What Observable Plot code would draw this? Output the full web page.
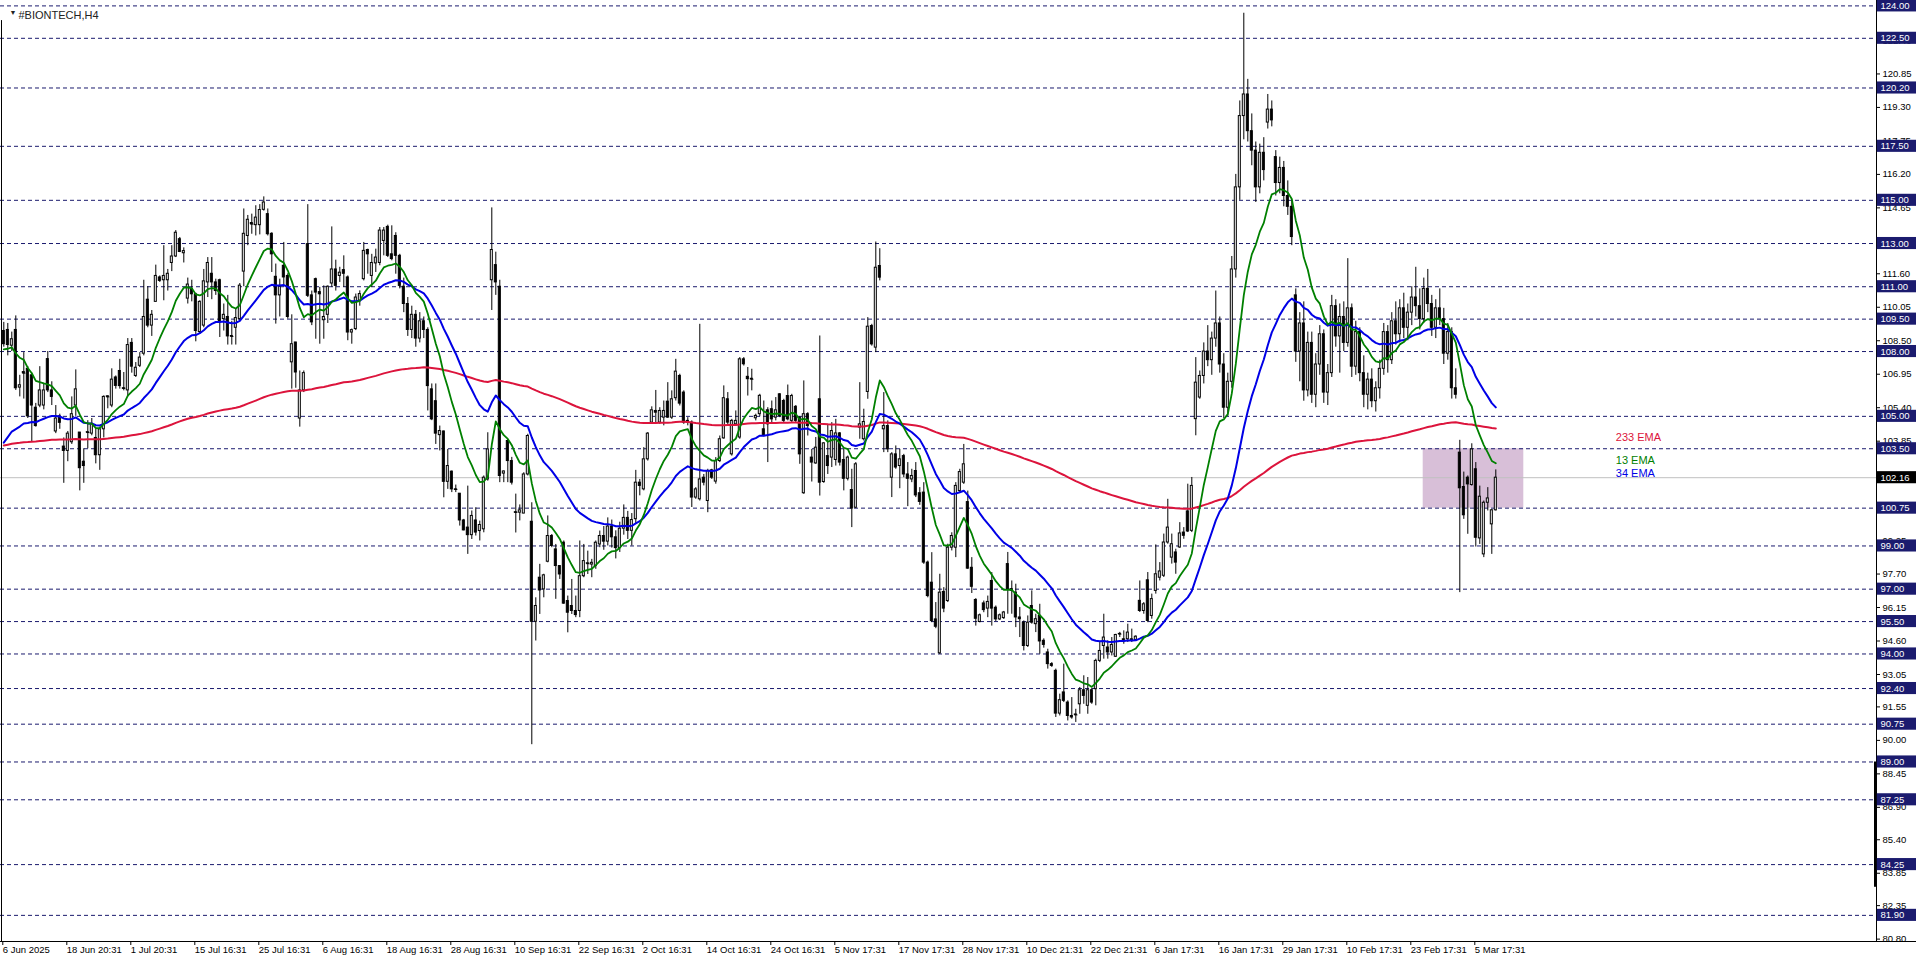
<!DOCTYPE html>
<html><head><meta charset="utf-8">
<script src="https://cdn.jsdelivr.net/npm/d3@7"></script>
<script src="https://cdn.jsdelivr.net/npm/@observablehq/plot@0.6"></script>
<style>
html,body{margin:0;padding:0;background:#fff;overflow:hidden;}
#chart svg{display:block;}
</style></head><body><div id="chart"></div>
<script>
// ---- Candle data (H4 bars) ----
const opens = [
108.95,109.0,108.27,109.0,106.33,107.0,107.2,106.9,105.4,105.5,
105.5,107.65,106.2,104.3,105.0,103.6,103.4,103.8,105.5,104.25,
102.9,104.25,104.2,104.0,103.2,104.4,105.9,105.5,106.8,107.1,
106.3,106.2,108.4,106.87,107.34,107.9,110.4,109.2,110.3,111.43,
111.3,111.3,112.1,112.4,113.2,112.55,110.45,110.9,110.65,108.9,
109.2,111.2,111.6,111.2,111.3,109.5,109.6,108.7,109.1,109.5,
111.7,113.35,113.9,113.85,113.85,114.56,114.36,113.45,111.46,110.6,
111.97,111.5,107.5,108.42,104.9,106.2,112.97,110.6,111.35,110.75,
109.45,109.7,111.15,111.8,111.5,111.77,111.43,108.88,109.04,110.35,
111.35,112.7,111.5,112.08,112.1,113.12,113.77,112.5,113.35,112.43,
111.0,110.2,109.0,109.7,108.6,109.4,109.0,106.25,105.7,104.13,
104.3,101.97,102.44,101.62,101.42,100.18,99.85,99.5,100.18,99.69,
99.77,102.08,111.3,112.0,111.0,102.35,103.86,102.93,100.56,100.54,
100.5,102.31,100.12,95.49,97.53,96.99,98.27,99.46,98.84,98.07,
99.15,96.45,96.22,95.99,95.99,97.6,98.18,98.14,98.07,99.07,
99.46,99.2,99.9,99.4,98.9,99.8,100.3,99.7,100.24,101.93,
101.62,103.01,104.71,105.25,104.71,104.94,105.68,104.94,105.84,106.87,
106.1,104.79,104.71,101.24,101.16,102.16,101.08,102.5,101.98,102.93,
103.98,105.79,103.24,104.63,104.02,107.64,106.83,106.72,104.91,105.1,
104.4,105.28,105.33,104.94,106.02,105.71,105.94,104.79,105.44,104.94,
101.44,105.1,103.09,102.82,105.79,101.96,103.16,103.09,102.98,104.21,
102.98,102.11,101.59,100.77,104.48,103.94,106.13,109.18,108.18,111.96,
104.4,104.55,102.16,103.24,102.7,103.16,102.31,102.08,102.47,101.44,
101.47,98.23,97.3,95.6,94.03,96.87,96.45,98.92,98.92,101.54,
101.93,101.03,97.99,96.5,95.48,96.34,96.1,97.38,96.14,95.6,
95.66,98.16,97.0,96.84,95.69,95.45,94.37,96.22,95.38,95.76,
94.61,94.07,93.53,93.22,91.24,92.22,91.75,91.13,91.18,91.67,
92.32,91.6,92.32,92.37,93.68,94.37,94.3,94.07,93.87,94.92,
94.68,94.68,94.68,94.64,96.46,95.99,97.41,95.76,96.92,97.53,
97.62,99.16,98.46,98.7,98.93,99.62,100.6,99.7,104.87,105.87,
106.87,108.0,107.6,108.6,109.3,107.4,105.4,106.6,111.8,115.6,
118.9,119.9,118.2,117.3,115.6,117.2,118.6,119.2,117.0,115.8,
116.5,115.2,114.7,110.6,108.0,109.3,106.2,108.4,106.0,107.4,
108.8,106.1,107.0,110.1,108.7,109.6,108.4,110.0,107.3,108.9,
107.0,106.0,106.7,105.7,106.3,107.2,108.9,107.6,109.4,108.8,
110.0,109.1,109.8,110.5,110.1,109.5,110.9,110.2,109.1,110.0,
109.5,107.9,108.9,106.3,103.32,101.73,102.16,101.82,102.55,99.35,
98.61,101.0,100.0,100.65];
const highs = [
109.35,109.3,108.9,109.65,106.9,107.95,107.3,107.0,105.6,107.3,
106.5,108.0,106.6,105.5,105.1,104.0,104.3,105.9,107.15,104.25,
103.5,104.8,104.9,104.4,104.5,105.95,105.95,107.2,106.87,107.64,
107.03,108.6,108.6,107.49,107.95,111.3,111.0,109.9,112.0,111.5,
112.9,111.8,112.9,113.6,113.28,112.8,111.4,111.3,110.7,110.35,
111.8,112.35,112.35,111.35,111.35,110.2,110.6,109.4,109.96,111.15,
114.6,114.3,114.36,114.75,114.8,115.16,114.6,113.5,112.05,111.35,
113.05,111.6,109.7,108.42,107.1,107.1,114.8,110.8,111.4,110.97,
111.04,111.04,113.77,112.23,111.9,112.43,111.5,109.04,110.66,110.81,
113.05,112.74,112.5,112.74,113.74,113.74,113.85,113.82,113.5,112.5,
111.4,110.5,110.1,109.9,109.8,109.6,109.1,106.5,106.5,104.55,
104.32,103.47,102.47,101.82,101.42,100.23,101.77,100.62,100.77,100.15,
102.24,104.24,114.65,112.6,111.3,102.47,103.93,103.1,101.4,100.9,
102.39,104.17,101.0,96.6,98.15,97.69,100.39,99.53,99.07,98.07,
99.23,96.68,97.45,96.68,99.23,99.07,98.76,98.38,99.23,99.69,
99.9,100.3,100.2,99.7,100.1,100.9,100.6,100.5,102.5,102.08,
103.55,104.25,105.44,106.2,105.4,105.71,106.56,106.18,107.64,106.95,
106.18,104.94,104.79,101.7,109.26,102.31,102.55,102.55,103.09,104.09,
106.41,106.1,104.86,105.25,107.72,107.72,107.26,107.18,105.1,106.02,
105.71,105.4,105.71,105.87,106.05,105.79,106.45,106.02,105.5,104.98,
106.64,105.17,103.47,104.02,108.72,103.78,104.63,104.71,104.86,104.25,
103.47,103.16,102.55,102.86,106.56,105.33,109.57,109.26,113.07,112.76,
106.1,104.79,103.32,103.63,103.47,103.24,102.86,102.55,102.86,101.7,
101.93,98.3,98.69,96.38,97.69,97.07,99.08,99.61,101.93,102.55,
103.7,101.54,98.46,96.56,95.85,96.45,96.68,97.77,96.22,95.85,
95.97,98.7,97.38,97.23,96.15,95.53,95.76,96.92,95.84,96.3,
94.7,94.22,93.6,93.3,92.14,93.53,91.83,91.98,91.44,92.45,
92.99,92.91,92.4,93.76,94.53,95.84,94.61,94.76,94.91,95.0,
95.07,95.38,95.15,94.84,97.38,96.38,97.77,96.77,99.05,98.23,
99.55,101.16,99.55,98.85,100.08,99.85,101.86,102.17,107.72,107.1,
108.4,109.2,108.9,110.8,109.6,107.9,107.0,112.4,116.2,119.6,
123.66,120.6,119.0,117.7,117.6,117.9,119.9,119.6,117.3,117.0,
116.8,115.9,115.0,110.9,109.8,110.3,108.9,108.9,107.9,109.2,
109.0,107.4,110.6,110.4,110.2,110.3,112.3,110.2,109.4,109.1,
107.8,107.0,107.2,106.6,107.6,109.3,109.2,109.8,110.3,110.4,
110.7,110.2,111.0,111.9,110.9,111.4,111.8,110.6,110.4,110.9,
110.0,109.3,109.1,107.2,103.89,102.42,102.24,103.73,102.86,101.77,
101.08,101.7,100.69,102.52];
const lows = [
108.2,107.8,108.0,106.2,105.9,105.8,104.9,103.8,104.5,105.4,
105.3,106.1,105.5,104.2,104.4,101.9,102.9,103.7,105.0,101.55,
101.9,103.5,104.1,102.8,102.5,104.0,105.35,105.4,106.26,106.26,
106.18,105.9,107.0,106.8,107.26,107.8,109.1,108.7,110.3,111.2,
110.35,110.8,111.7,112.35,112.58,112.1,110.2,110.3,108.45,108.8,
109.1,110.5,110.4,110.6,108.65,108.95,108.3,108.3,108.3,109.4,
111.0,112.9,113.43,113.35,113.4,114.5,113.35,111.66,109.27,109.6,
111.0,109.5,106.26,106.3,104.5,106.1,110.5,109.2,108.57,108.34,
108.57,109.3,110.97,110.8,111.2,110.97,108.5,108.34,108.97,110.1,
111.27,111.58,110.97,111.66,111.97,112.43,112.35,112.2,111.58,110.9,
109.8,108.7,108.6,108.2,108.4,108.6,105.25,104.8,103.7,103.4,
101.23,101.62,101.47,101.47,99.92,99.7,98.61,99.3,99.46,99.23,
99.61,102.0,109.9,110.6,101.93,101.93,101.93,101.82,99.6,100.16,
100.49,102.24,89.8,94.6,95.83,96.6,98.22,98.92,96.53,97.45,
96.3,94.98,95.83,95.68,95.68,97.53,97.68,97.53,97.92,98.92,
98.8,99.0,98.9,98.4,98.7,99.5,99.3,99.0,100.0,101.32,
101.55,102.93,104.63,104.71,104.63,104.56,104.91,104.86,105.71,105.48,
104.63,104.56,100.78,101.16,101.08,101.78,100.54,102.08,101.86,102.86,
103.94,104.56,103.16,104.56,103.94,107.33,105.94,106.18,104.79,104.98,
104.05,102.86,104.63,104.79,104.94,104.71,104.79,104.71,104.71,102.78,
101.39,104.09,101.96,102.78,101.31,101.9,102.31,102.63,102.7,102.7,
101.55,102.01,99.85,100.73,103.94,103.86,105.79,108.25,107.95,111.27,
103.32,103.32,101.24,102.55,101.65,102.16,100.82,101.93,101.24,100.88,
98.15,96.6,95.45,95.17,93.98,95.91,96.38,98.77,98.46,101.46,
101.85,97.92,96.8,95.29,95.44,95.91,95.68,95.29,95.5,95.55,
95.6,95.84,95.84,95.22,94.76,94.14,94.3,95.38,94.99,93.99,
94.27,93.3,93.38,91.06,91.13,91.75,90.9,90.98,90.83,91.21,
91.67,91.21,91.67,91.6,93.6,93.76,93.76,93.91,93.84,94.76,
94.45,94.53,94.53,94.6,95.92,95.84,95.45,95.61,96.77,97.38,
97.54,99.08,98.16,97.69,98.89,99.31,99.62,99.62,104.1,105.79,
106.5,107.3,106.9,108.2,107.0,104.9,105.0,106.3,111.4,115.0,
117.8,117.7,116.6,114.9,115.3,115.9,118.3,118.4,115.2,115.3,
114.7,114.3,112.9,107.5,106.6,105.7,105.9,105.6,105.4,106.9,
105.6,105.5,106.8,108.2,107.0,108.0,108.2,106.8,106.9,106.6,
105.4,105.3,105.4,105.2,105.8,106.9,107.0,107.4,108.3,108.4,
108.6,108.5,109.2,109.6,109.0,109.3,109.8,108.7,108.6,109.2,
107.4,107.6,105.8,105.8,96.84,100.23,99.54,101.77,98.95,99.07,
98.46,100.62,98.61,100.62];
const closes = [
108.34,108.3,108.57,106.3,106.44,107.05,105.0,105.5,104.55,106.2,
106.2,106.2,105.9,104.9,104.7,103.4,104.2,105.1,106.25,102.6,
102.7,104.27,104.65,103.2,104.4,105.9,105.93,106.7,106.41,106.4,
106.28,108.3,107.3,107.25,107.72,109.6,109.2,109.7,111.5,111.27,
111.5,111.6,112.4,113.5,112.61,112.65,111.1,110.65,108.95,110.3,
111.25,112.1,111.2,110.8,109.4,109.7,108.7,108.72,109.55,111.05,
113.45,114.1,113.95,114.2,114.55,114.9,113.43,112.5,110.6,111.0,
111.43,109.6,108.34,107.03,106.2,107.0,110.58,109.35,110.73,110.65,
109.6,111.0,111.8,111.04,111.65,111.6,108.88,108.99,110.5,110.66,
112.66,112.5,112.1,112.35,113.6,113.6,112.43,112.28,112.43,111.04,
110.2,109.0,109.7,108.6,109.4,109.0,106.4,104.86,104.2,104.32,
101.97,102.7,101.62,101.6,100.18,99.72,99.5,100.39,99.62,99.97,
102.16,103.47,112.7,111.2,102.24,102.45,102.93,101.93,100.54,100.65,
102.31,104.09,95.49,96.22,96.94,97.64,99.46,99.0,98.07,97.68,
96.33,95.91,95.99,95.8,97.6,98.3,98.2,98.22,99.15,99.46,
99.2,99.9,99.4,98.9,99.8,100.3,99.7,100.2,101.93,101.78,
103.01,104.2,105.28,105.17,105.25,105.25,104.94,105.79,107.07,105.59,
104.71,104.71,101.24,101.62,102.08,101.93,102.47,102.16,102.93,103.94,
105.84,104.71,104.79,104.79,107.64,107.41,106.72,106.74,105.02,105.95,
104.09,104.63,104.86,105.28,105.02,104.79,104.86,105.94,104.79,103.24,
105.1,104.55,102.86,103.55,101.93,103.75,102.7,104.32,104.21,102.86,
102.11,103.09,100.73,102.78,104.63,104.74,109.15,108.33,111.88,111.42,
104.55,103.47,103.24,102.63,103.01,102.31,102.11,102.24,101.34,101.04,
98.23,96.68,95.52,95.26,96.84,96.1,98.92,99.46,101.78,102.42,
102.78,97.95,97.11,95.63,95.79,96.03,96.41,96.1,95.6,95.79,
95.92,97.0,96.92,95.69,95.61,94.37,95.45,95.45,95.61,94.58,
94.42,93.53,93.45,91.24,91.86,91.83,91.13,91.06,91.2,92.32,
92.06,92.32,91.75,93.68,94.14,94.76,94.07,94.42,94.88,94.93,
94.61,94.99,94.61,94.8,95.99,96.3,95.53,96.54,97.69,97.82,
99.16,99.85,99.08,98.23,99.58,99.47,99.67,101.78,106.56,106.87,
108.0,107.6,108.6,109.3,107.4,105.4,106.6,111.8,115.6,118.9,
119.9,118.2,117.3,115.6,117.2,116.4,119.2,118.7,115.8,116.5,
115.2,114.7,113.3,108.0,109.3,106.2,108.4,106.0,107.4,108.8,
106.1,107.0,110.1,108.7,109.6,108.4,110.0,107.3,108.9,107.0,
106.0,106.7,105.7,106.3,107.2,108.9,107.6,109.4,108.8,110.0,
109.1,109.8,110.5,110.1,109.5,110.9,110.2,109.1,110.0,109.5,
107.9,108.9,106.3,106.0,101.67,100.42,101.85,103.47,99.38,101.28,
101.0,101.2,100.65,102.16];

// ---- Axis / annotation data ----
const dateTickBars = [0,16,32,48,64,80,96,112,128,144,160,176,192,208,224,240,256,272,288,304,320,336,352,368];
const dateLabels = ["6 Jun 2025","18 Jun 20:31","1 Jul 20:31","15 Jul 16:31","25 Jul 16:31","6 Aug 16:31","18 Aug 16:31","28 Aug 16:31","10 Sep 16:31","22 Sep 16:31","2 Oct 16:31","14 Oct 16:31","24 Oct 16:31","5 Nov 17:31","17 Nov 17:31","28 Nov 17:31","10 Dec 21:31","22 Dec 21:31","6 Jan 17:31","16 Jan 17:31","29 Jan 17:31","10 Feb 17:31","23 Feb 17:31","5 Mar 17:31"];
const priceTicks = [80.80,82.35,83.85,85.40,86.90,88.45,90.00,91.55,93.05,94.60,96.15,97.70,99.25,100.75,102.30,103.85,105.40,106.95,108.50,110.05,111.60,113.15,114.65,116.20,117.75,119.30,120.85,122.40,123.95];
const levelPrices = [124.00,122.50,120.20,117.50,115.00,113.00,111.00,109.50,108.00,105.00,103.50,100.75,99.00,97.00,95.50,94.00,92.40,90.75,89.00,87.25,84.25,81.90];
const lastPrice = 102.16;
const zoneBars = [354.85, 380.0];
const zonePrices = [100.75, 103.50];
const emaPeriods = [233, 34, 13];
const emaSeeds = [103.65, 103.78, 108.1];   // indicator values at the first visible bar
const emaNames = ["233 EMA", "13 EMA", "34 EMA"];
const emaColors = {233: "#dc143c", 34: "#0000e6", 13: "#008000"};
const title = "#BIONTECH,H4";

// ---- Build ----
const X_MIN = -0.825, X_MAX = 468.175, X_FULL = 478.175;
const Y_MIN = 80.69, Y_MAX = 124.25;
const navy = "#1b1b6e";

const bars = closes.map((c, i) => ({i, o: opens[i], h: highs[i], l: lows[i], c}));
function ema(period, seed) {
  const a = 2 / (period + 1);
  let e = seed;
  return closes.map((c, i) => i === 0 ? e : (e = e + a * (c - e)));
}
const emaLines = emaPeriods.map((p, k) => ({period: p, values: ema(p, emaSeeds[k]).map((v, i) => ({i, v}))}));
const legend = [
  {text: emaNames[0], y: 104.02, color: emaColors[233]},
  {text: emaNames[1], y: 102.95, color: emaColors[13]},
  {text: emaNames[2], y: 102.35, color: emaColors[34]}
];

const chart = Plot.plot({
  width: 1916, height: 963,
  marginLeft: 0, marginRight: 40, marginTop: 0, marginBottom: 22,
  x: {domain: [X_MIN, X_MAX]},
  y: {domain: [Y_MIN, Y_MAX]},
  style: {fontFamily: "'Liberation Sans', Arial, sans-serif", fontSize: "9.5px", background: "#fff", color: "#000", overflow: "visible"},
  marks: [
    Plot.rect([0], {x1: zoneBars[0], x2: zoneBars[1], y1: zonePrices[0], y2: zonePrices[1], fill: "#d8bfd8"}),
    Plot.ruleY(levelPrices, {stroke: navy, strokeDasharray: "4,3"}),
    Plot.ruleY([lastPrice], {stroke: "#c0c0c0"}),
    Plot.ruleX(bars, {x: "i", y1: "l", y2: "h", stroke: "#000"}),
    Plot.rect(bars, {x1: d => d.i - 0.25, x2: d => d.i + 0.25, y1: "o", y2: "c",
      fill: d => d.c > d.o ? "#fff" : "#000", stroke: "#000"}),
    Plot.link(bars.filter(d => Math.abs(d.c - d.o) < 0.06), {x1: d => d.i - 0.4, x2: d => d.i + 0.4, y1: "o", y2: "o", stroke: "#000"}),
    ...emaLines.map(L => Plot.line(L.values, {x: "i", y: "v", stroke: emaColors[L.period], strokeWidth: L.period === 13 ? 1.8 : 2})),
    Plot.text(legend, {x: 403, y: "y", text: "text", fill: "color", textAnchor: "start", fontSize: 11}),
    // axes
    Plot.axisY(priceTicks, {anchor: "right", tickSize: 3, tickPadding: 3, tickFormat: d => d.toFixed(2), label: null}),
    Plot.axisX(dateTickBars, {anchor: "bottom", tickSize: 4, tickPadding: 1, textAnchor: "start", dx: -1,
      tickFormat: d => dateLabels[dateTickBars.indexOf(d)], label: null}),
    Plot.ruleX([X_MAX], {stroke: "#000"}),
    Plot.ruleX([X_MAX], {y1: 83.2, y2: 89.0, stroke: "#000", strokeWidth: 3, dx: -1}),
    Plot.ruleY([Y_MIN], {x1: X_MIN, x2: X_FULL, stroke: "#000"}),
    Plot.ruleX([-0.575], {y1: 123.32, y2: Y_MIN, stroke: "#000"}),
    // price level boxes
    Plot.rect(levelPrices, {x1: X_MAX + 0.2, x2: X_FULL, y1: d => d - 0.28, y2: d => d + 0.28, fill: navy}),
    Plot.text(levelPrices, {x: X_MAX, y: d => d, text: d => d.toFixed(2), dx: 4, textAnchor: "start", fill: "#fff"}),
    Plot.rect([lastPrice], {x1: X_MAX + 0.2, x2: X_FULL, y1: d => d - 0.28, y2: d => d + 0.28, fill: "#000"}),
    Plot.text([lastPrice], {x: X_MAX, y: d => d, text: d => d.toFixed(2), dx: 4, textAnchor: "start", fill: "#fff"}),
    // title
    Plot.text(["▼"], {frameAnchor: "top-left", dx: 9, dy: 10, text: d => d, fontSize: 7, fill: "#222"}),
    Plot.text([title], {frameAnchor: "top-left", dx: 18, dy: 11, text: d => d, textAnchor: "start", fontSize: 11, fill: "#222"})
  ]
});
document.getElementById("chart").appendChild(chart);
</script>
</body></html>
